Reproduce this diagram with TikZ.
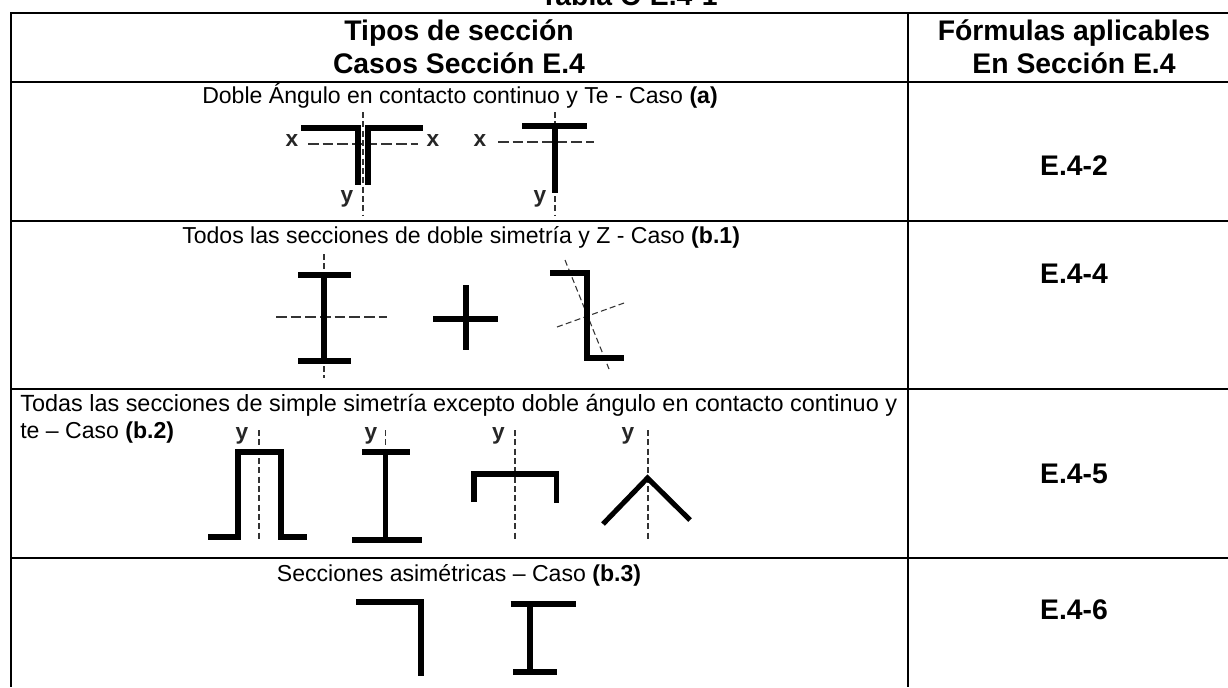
\documentclass[tikz,border=0pt]{standalone}
\usepackage{fontspec}
\setmainfont{Liberation Sans}
\tikzset{
  x=0.75pt,y=-0.75pt,
  grid/.style={line width=1.5pt,black},
  thick section/.style={line width=3.8pt,black,line cap=butt,line join=miter},
  axish/.style={line width=0.8pt,black!80,dash pattern=on 8pt off 3pt},
  axisv/.style={line width=0.8pt,black!80,dash pattern=on 4.5pt off 2.5pt},
  head/.style={font=\fontsize{21.25pt}{25pt}\selectfont\bfseries,inner sep=0pt,anchor=base},
  body/.style={font=\fontsize{17.3pt}{20pt}\selectfont,anchor=base,inner sep=0pt},
  bodywide/.style={font=\fontsize{17.58pt}{20pt}\selectfont,anchor=base west,inner sep=0pt},
  lab/.style={font=\fontsize{17pt}{19pt}\selectfont\bfseries,text=black!85,inner sep=0pt},
}
\begin{document}
\begin{tikzpicture}
\useasboundingbox (0,0) rectangle (1228,687);
\fill[white] (0,0) rectangle (1228,687);
% grid
\draw[grid] (10,13) -- (1228,13);
\draw[grid] (10,82) -- (1228,82);
\draw[grid] (10,221) -- (1228,221);
\draw[grid] (10,389) -- (1228,389);
\draw[grid] (10,558) -- (1228,558);
\draw[grid] (10.5,12) -- (10.5,687);
\draw[grid] (908,12) -- (908,687);
% headings
\node[head,anchor=base west] (title) at (540,5) {Tabla C-E.4-1};
\node[head] (h1a) at (459,40) {Tipos de sección};
\node[head] (h1b) at (459,73) {Casos Sección E.4};
\node[head] (h2a) at (1074,40) {Fórmulas aplicables};
\node[head] (h2b) at (1074,73) {En Sección E.4};
\node[head] (f1) at (1074,175) {E.4-2};
\node[head] (f2) at (1074,283) {E.4-4};
\node[head] (f3) at (1074,483) {E.4-5};
\node[head] (f4) at (1074,619) {E.4-6};
% row captions
\node[body,anchor=base west] (r1) at (202,103) {Doble Ángulo en contacto continuo y Te - Caso \textbf{(a)}};
\node[body,anchor=base west] (r2) at (182,243) {Todos las secciones de doble simetría y Z - Caso \textbf{(b.1)}};
\node[bodywide] (r3a) at (20,411) {Todas las secciones de simple simetría excepto doble ángulo en contacto continuo y};
\node[body,anchor=base west] (r3b) at (20,438) {te – Caso \textbf{(b.2)}};
\node[body] (r4) at (459,581) {Secciones asimétricas – Caso \textbf{(b.3)}};
% row 1 figures
\draw[axisv] (363,112) -- (363,216);
\draw[axish] (308,144) -- (418,144);
\draw[axisv] (555,112) -- (555,216);
\draw[axish] (498,142) -- (594,142);
\draw[thick section] (301,128) -- (358,128) -- (358,185);
\draw[thick section] (423,128) -- (368,128) -- (368,185);
\draw[thick section] (522,126) -- (587,126);
\draw[thick section] (555,126) -- (555,193);
\node[lab] (x1) at (292,141) {x};
\node[lab] (x2) at (433,141) {x};
\node[lab] (x3) at (480,141) {x};
\node[lab] (y1) at (347,199) {y};
\node[lab] (y2) at (540,199) {y};
% row 2 figures
\draw[axisv] (324,254) -- (324,378);
\draw[axish] (276,317) -- (387,317);
\draw[thick section] (298,275) -- (351,275);
\draw[thick section] (298,361) -- (351,361);
\draw[thick section] (324,275) -- (324,361);
\draw[thick section] (433,319) -- (498,319);
\draw[thick section] (466,285) -- (466,350);
\draw[axisv] (565,260) -- (609,369);
\draw[axisv] (557,327) -- (624,303);
\draw[thick section] (550,273) -- (587,273) -- (587,358) -- (624,358);
% row 3 figures
\draw[axisv] (259,430) -- (259,542);
\draw[axisv] (385.5,430) -- (385.5,452);
\draw[axisv] (515,430) -- (515,542);
\draw[axisv] (648,430) -- (648,542);
\draw[thick section] (208,537) -- (238,537) -- (238,452) -- (281,452) -- (281,537) -- (307,537);
\draw[thick section] (362,452) -- (410,452);
\draw[thick section] (352,540) -- (422,540);
\draw[thick section] (385.5,452) -- (385.5,540);
\draw[thick section] (474,502) -- (474,474) -- (556.5,474) -- (556.5,503);
\draw[thick section,miter limit=4] (603,524) -- (647.5,478) -- (690,520);
\node[lab] (y3) at (242,436) {y};
\node[lab] (y4) at (371,436) {y};
\node[lab] (y5) at (498.5,436) {y};
\node[lab] (y6) at (628,436) {y};
% row 4 figures
\draw[thick section] (356,602) -- (421,602) -- (421,676);
\draw[thick section] (510.5,604) -- (575.5,604);
\draw[thick section] (513,672) -- (557,672);
\draw[thick section] (530,604) -- (530,672);
\end{tikzpicture}
\end{document}
